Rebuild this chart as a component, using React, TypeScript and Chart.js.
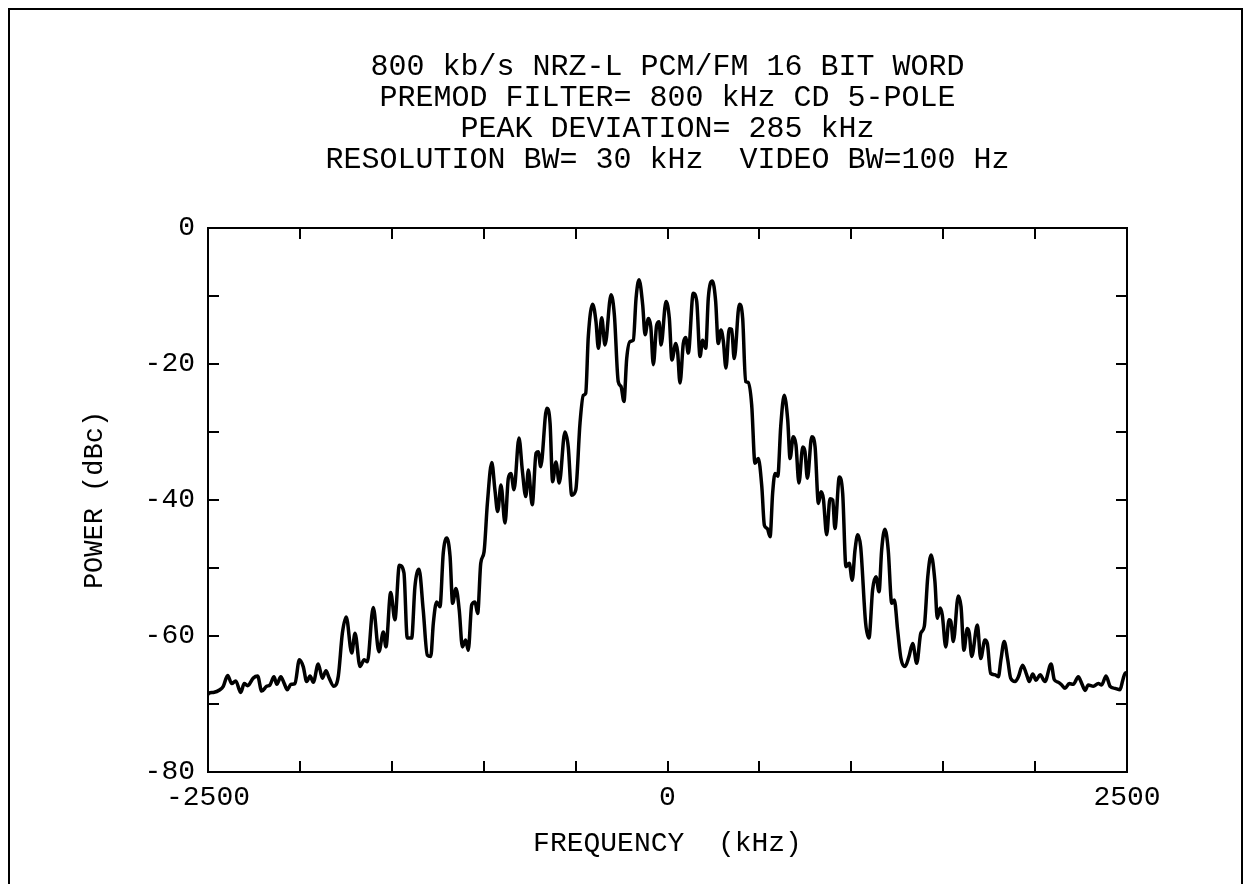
import React, { useEffect, useRef } from 'react';
import { Chart, registerables } from 'chart.js';

Chart.register(...registerables);

const TITLE_LINES = [
  '800 kb/s NRZ-L PCM/FM 16 BIT WORD',
  'PREMOD FILTER= 800 kHz CD 5-POLE',
  'PEAK DEVIATION= 285 kHz',
  'RESOLUTION BW= 30 kHz  VIDEO BW=100 Hz',
];
const X_AXIS_TITLE = 'FREQUENCY  (kHz)';
const Y_AXIS_TITLE = 'POWER (dBc)';
const X_TICK_LABELS = [-2500, 0, 2500];
const Y_TICK_LABELS = [0, -20, -40, -60, -80];

const FREQ_KHZ = [
  -2500, -2495, -2471, -2435, -2417, -2393, -2371, -2349, -2322, -2303,
  -2284, -2254, -2230, -2208, -2181, -2163, -2141, -2126, -2104, -2085,
  -2069, -2048, -2027, -2003, -1982, -1963, -1945, -1927, -1900, -1878,
  -1858, -1842, -1815, -1791, -1769, -1748, -1718, -1700, -1673, -1650,
  -1633, -1601, -1570, -1546, -1532, -1506, -1483, -1459, -1434,
  -1416, -1392, -1374, -1352, -1329, -1307, -1288, -1274, -1256, -1238,
  -1220, -1201, -1183, -1169, -1151, -1133, -1116, -1098, -1084, -1065,
  -1047, -1033, -1016, -998, -980, -956, -939, -924, -906, -884,
  -866, -852, -835, -808, -790, -771, -757, -736, -715, -703,
  -690, -657, -639, -625, -607, -589, -558, -540, -521, -499,
  -476, -458, -445, -431,
  -407, -389, -376, -358, -340, -307, -289, -268, -253, -237,
  -222, -204, -186, -171, -155, -135, -122, -104, -91, -77,
  -59, -46, -35, -8, 10, 24, 45, 55, 68, 86,
  99, 113, 140, 159, 177, 191, 208, 222, 244, 262,
  276, 291, 304, 318, 336, 349, 363, 391, 409, 425,
  440, 458,
  476, 494, 513, 527, 543, 558, 572, 585, 600, 616,
  635, 654, 667, 684, 699, 715, 736, 748, 761, 785,
  803, 821, 835, 848, 866, 884, 899, 911, 935, 953,
  971, 989, 1005, 1020, 1035, 1051, 1078, 1096, 1116, 1134,
  1151, 1165, 1183, 1201, 1220, 1234, 1252, 1270, 1292, 1314,
  1334, 1356, 1378, 1397, 1416, 1434, 1455,
  1468, 1483, 1495, 1514, 1532, 1542, 1555, 1582, 1597, 1613,
  1631, 1642, 1655, 1686, 1704, 1727, 1740, 1758, 1782, 1800,
  1814, 1832, 1851, 1867, 1891, 1909, 1932, 1954, 1968, 1987,
  2005, 2027, 2054, 2087, 2104, 2126, 2145, 2163, 2186, 2208,
  2235, 2254, 2272, 2289, 2317, 2344, 2362, 2386, 2408, 2435,
  2462, 2477, 2489, 2500,
];

const POWER_DBC = [
  -68.6, -68.4, -68.3, -67.9, -67.4, -65.8, -67.0, -66.6, -68.3, -67.0,
  -67.3, -66.2, -65.9, -68.1, -67.4, -67.2, -66.0, -67.1, -66.0, -67.0,
  -67.9, -67.1, -67.0, -63.5, -64.5, -66.7, -65.9, -66.8, -64.1, -66.2,
  -65.1, -66.1, -67.4, -65.9, -59.6, -57.2, -62.5, -59.6, -64.5, -63.5,
  -63.8, -55.8, -62.3, -59.4, -61.6, -53.6, -57.6, -49.6, -50.7,
  -60.3, -60.3, -52.7, -50.2, -56.2, -62.8, -63.0, -58.1, -55.0, -55.7,
  -47.8, -45.6, -48.3, -55.2, -53.0, -56.2, -61.6, -60.6, -62.1, -55.4,
  -55.0, -56.7, -49.3, -47.6, -40.5, -34.5, -38.5, -41.7, -37.8, -43.4,
  -36.8, -36.1, -38.5, -30.9, -35.6, -39.5, -35.6, -40.7, -33.1, -32.9,
  -35.1, -26.5, -28.7, -37.3, -34.4, -37.5, -30.0, -32.2, -39.3, -38.5,
  -28.7, -24.6, -24.3, -16.0,
  -11.2, -13.8, -17.7, -13.2, -17.2, -9.8, -12.8, -22.6, -23.3, -25.5,
  -19.2, -16.7, -16.5, -10.3, -7.6, -11.3, -15.7, -13.3, -14.5, -20.1,
  -14.3, -13.8, -17.2, -10.8, -13.3, -19.4, -17.0, -18.2, -22.8, -17.0,
  -16.1, -18.4, -9.6, -10.8, -18.9, -16.5, -17.7, -10.3, -7.8, -10.8,
  -17.0, -15.0, -16.7, -20.6, -14.8, -14.9, -19.2, -11.2, -13.3, -22.6,
  -22.7, -26.0,
  -34.6, -33.9, -38.0, -43.7, -44.2, -45.4, -39.0, -36.1, -36.5, -29.2,
  -24.6, -28.2, -33.9, -30.7, -31.9, -37.5, -32.2, -32.9, -36.8, -30.7,
  -32.2, -40.5, -38.8, -39.8, -45.1, -39.8, -40.0, -44.2, -36.6, -39.0,
  -49.8, -49.3, -51.8, -47.4, -45.1, -46.9, -58.1, -60.3, -53.2, -51.3,
  -53.5, -47.4, -44.3, -47.4, -55.2, -54.7, -59.1, -63.3, -64.5, -63.0,
  -61.1, -64.0, -59.6, -58.6, -51.3, -48.1, -52.0,
  -57.4, -55.9, -56.9, -61.6, -57.6, -57.9, -60.8, -54.1, -55.7, -62.1,
  -58.9, -59.6, -63.0, -58.4, -63.3, -60.6, -61.1, -65.5, -65.7, -66.0,
  -63.5, -60.8, -63.5, -66.2, -66.7, -66.0, -64.3, -65.7, -66.7, -65.6,
  -66.5, -65.7, -66.7, -64.1, -66.4, -66.8, -67.2, -67.7, -67.0, -67.1,
  -66.0, -67.0, -68.0, -67.2, -67.4, -67.0, -67.2, -65.9, -67.4, -67.7,
  -67.9, -66.5, -65.5, -65.4,
];

const FONT_FAMILY = '"Liberation Mono", "DejaVu Sans Mono", monospace';
const CANVAS_W = 1235;
const CANVAS_H = 884;

export default function App() {
  const canvasRef = useRef<HTMLCanvasElement | null>(null);

  useEffect(() => {
    const canvas = canvasRef.current;
    if (!canvas) return;

    const framePlugin = {
      id: 'pageFrame',
      beforeDraw(chart: any) {
        const ctx = chart.ctx;
        ctx.save();
        ctx.fillStyle = '#ffffff';
        ctx.fillRect(0, 0, chart.width, chart.height);
        ctx.strokeStyle = '#000000';
        ctx.lineWidth = 2;
        ctx.beginPath();
        ctx.moveTo(1, chart.height);
        ctx.lineTo(1, 1);
        ctx.lineTo(chart.width - 1, 1);
        ctx.lineTo(chart.width - 1, chart.height);
        ctx.stroke();
        ctx.restore();
      },
    };

    const innerTicksPlugin = {
      id: 'innerTicks',
      afterDraw(chart: any) {
        const { ctx, chartArea } = chart;
        const { left, right, top, bottom } = chartArea;
        const xs = chart.scales.x;
        const ys = chart.scales.y;
        const len = 11;
        ctx.save();
        ctx.strokeStyle = '#000000';
        ctx.lineWidth = 2;
        ctx.strokeRect(left, top, right - left, bottom - top);
        ctx.beginPath();
        ys.ticks.forEach((t: any) => {
          if (t.value === ys.min || t.value === ys.max) return;
          const py = Math.round(ys.getPixelForValue(t.value));
          ctx.moveTo(left, py);
          ctx.lineTo(left + len, py);
          ctx.moveTo(right - len, py);
          ctx.lineTo(right, py);
        });
        xs.ticks.forEach((t: any) => {
          if (t.value === xs.min || t.value === xs.max) return;
          const px = Math.round(xs.getPixelForValue(t.value));
          ctx.moveTo(px, top);
          ctx.lineTo(px, top + len);
          ctx.moveTo(px, bottom - len);
          ctx.lineTo(px, bottom);
        });
        ctx.stroke();
        ctx.restore();
      },
    };

    const tickFont = { family: FONT_FAMILY, size: 28, weight: 'normal' as const };
    const xTitleFont = { family: FONT_FAMILY, size: 28, weight: 'normal' as const };
    const yTitleFont = { family: FONT_FAMILY, size: 27, weight: 'normal' as const };

    const chart = new Chart(canvas, {
      type: 'line',
      data: {
        datasets: [
          {
            data: FREQ_KHZ.map((f, i) => ({ x: f, y: POWER_DBC[i] })),
            borderColor: '#000000',
            borderWidth: 3.5,
            pointRadius: 0,
            fill: false,
            cubicInterpolationMode: 'monotone',
          },
        ],
      },
      options: {
        responsive: false,
        animation: false,
        devicePixelRatio: 1,
        layout: { padding: { left: 0, top: 0, right: 116, bottom: 0 } },
        plugins: {
          legend: { display: false },
          tooltip: { enabled: false },
          title: {
            display: true,
            fullSize: false,
            text: TITLE_LINES,
            color: '#000000',
            font: { family: FONT_FAMILY, size: 30, weight: 'normal', lineHeight: '31px' },
            padding: { top: 43.5, bottom: 52.5 },
          },
        },
        scales: {
          x: {
            type: 'linear',
            position: 'bottom',
            min: -2500,
            max: 2500,
            grid: { display: false, drawTicks: false },
            border: { display: false },
            ticks: {
              stepSize: 500,
              autoSkip: false,
              maxRotation: 0,
              padding: 9,
              color: '#000000',
              font: tickFont,
              callback: (v: any) => (X_TICK_LABELS.includes(Number(v)) ? String(v) : ''),
            },
            title: {
              display: true,
              text: X_AXIS_TITLE,
              color: '#000000',
              font: xTitleFont,
              padding: { top: 0, bottom: 32 },
            },
            afterFit: (s: any) => {
              s.height = 120;
            },
          },
          y: {
            type: 'linear',
            position: 'left',
            min: -80,
            max: 0,
            grid: { display: false, drawTicks: false },
            border: { display: false },
            ticks: {
              stepSize: 10,
              autoSkip: false,
              padding: 13,
              color: '#000000',
              font: tickFont,
              callback: (v: any) => (Y_TICK_LABELS.includes(Number(v)) ? String(v) : ''),
            },
            title: {
              display: true,
              text: Y_AXIS_TITLE,
              color: '#000000',
              font: yTitleFont,
              padding: { top: 71, bottom: 0 },
            },
            afterFit: (s: any) => {
              s.width = 200;
            },
          },
        },
      },
      plugins: [framePlugin, innerTicksPlugin],
    } as any);

    return () => chart.destroy();
  }, []);

  return (
    <div style={{ width: CANVAS_W, height: CANVAS_H, marginBottom: -8, overflow: 'hidden' }}>
      <canvas ref={canvasRef} width={CANVAS_W} height={CANVAS_H} style={{ display: 'block' }} />
    </div>
  );
}
